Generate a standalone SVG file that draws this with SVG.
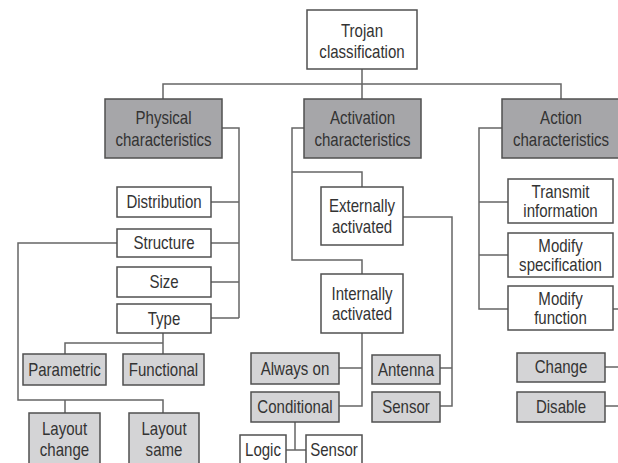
<svg xmlns="http://www.w3.org/2000/svg" width="618" height="463" viewBox="0 0 618 463">
<style>
.w,.d,.l{stroke:#505050;stroke-width:1.5}
.w{fill:#ffffff}
.d{fill:#a6a6a9}
.l{fill:#d4d4d6}
text{font-family:"Liberation Sans",Arial,sans-serif;font-size:17.5px;fill:#333333;text-anchor:middle}
#connectors path{fill:none;stroke:#666666;stroke-width:1.5}
</style>
<rect x="0" y="0" width="618" height="463" fill="#ffffff"/>
<g id="connectors">
<path d="M163,99 V84 H561 V99 M362,69 V99"/>
<path d="M222,128 H239 V318 M211,202 H239 M211,243 H239 M211,282 H239 M211,318 H239"/>
<path d="M117,243 H18 V400 H163 V413 M65,400 V413"/>
<path d="M163,333 V343 H65 V354 M163,343 V354"/>
<path d="M304,128 H292 V260 H362 V274 M292,172 H362 V187"/>
<path d="M403,217 H452 V406 H440 M440,368 H452"/>
<path d="M362,333 V406 H339 M339,368 H362"/>
<path d="M295,422 V450 M286,450 H306"/>
<path d="M502,128 H479 V309 H508 M479,202 H508 M479,255 H508"/>
<path d="M613,309 H618 M605,367 H618 M605,406 H618"/>
</g>
<g id="trojan"><rect class="w" x="307" y="10" width="110" height="59"/><text transform="matrix(0.86 0 0 1 362 37)">Trojan</text><text transform="matrix(0.86 0 0 1 362 58)">classification</text></g>
<g id="physical"><rect class="d" x="105" y="99" width="117" height="59"/><text transform="matrix(0.86 0 0 1 163.5 124)">Physical</text><text transform="matrix(0.86 0 0 1 163.5 146)">characteristics</text></g>
<g id="activation"><rect class="d" x="304" y="99" width="117" height="59"/><text transform="matrix(0.86 0 0 1 362.5 124)">Activation</text><text transform="matrix(0.86 0 0 1 362.5 146)">characteristics</text></g>
<g id="action"><rect class="d" x="502" y="99" width="118" height="59"/><text transform="matrix(0.86 0 0 1 561 124)">Action</text><text transform="matrix(0.86 0 0 1 561 146)">characteristics</text></g>
<g id="distribution"><rect class="w" x="117" y="187" width="94" height="30"/><text transform="matrix(0.86 0 0 1 164 208)">Distribution</text></g>
<g id="structure"><rect class="w" x="117" y="229" width="94" height="28"/><text transform="matrix(0.86 0 0 1 164 249)">Structure</text></g>
<g id="size"><rect class="w" x="117" y="267" width="94" height="30"/><text transform="matrix(0.86 0 0 1 164 288)">Size</text></g>
<g id="type"><rect class="w" x="117" y="304" width="94" height="29"/><text transform="matrix(0.86 0 0 1 164 324.5)">Type</text></g>
<g id="parametric"><rect class="l" x="23" y="354" width="83" height="31"/><text transform="matrix(0.86 0 0 1 64.5 375.5)">Parametric</text></g>
<g id="functional"><rect class="l" x="123" y="354" width="81" height="31"/><text transform="matrix(0.86 0 0 1 163.5 375.5)">Functional</text></g>
<g id="layout-change"><rect class="l" x="29" y="413" width="71" height="55"/><text transform="matrix(0.86 0 0 1 64.5 435)">Layout</text><text transform="matrix(0.86 0 0 1 64.5 456)">change</text></g>
<g id="layout-same"><rect class="l" x="129" y="413" width="70" height="55"/><text transform="matrix(0.86 0 0 1 164 435)">Layout</text><text transform="matrix(0.86 0 0 1 164 456)">same</text></g>
<g id="externally"><rect class="w" x="321" y="187" width="82" height="58"/><text transform="matrix(0.86 0 0 1 362 212)">Externally</text><text transform="matrix(0.86 0 0 1 362 233)">activated</text></g>
<g id="internally"><rect class="w" x="321" y="274" width="82" height="59"/><text transform="matrix(0.86 0 0 1 362 299.5)">Internally</text><text transform="matrix(0.86 0 0 1 362 320)">activated</text></g>
<g id="always-on"><rect class="l" x="251" y="353" width="88" height="31"/><text transform="matrix(0.86 0 0 1 295 374.5)">Always on</text></g>
<g id="conditional"><rect class="l" x="251" y="392" width="88" height="30"/><text transform="matrix(0.86 0 0 1 295 413)">Conditional</text></g>
<g id="antenna"><rect class="l" x="372" y="355" width="68" height="29"/><text transform="matrix(0.86 0 0 1 406 375.5)">Antenna</text></g>
<g id="sensor"><rect class="l" x="372" y="392" width="68" height="30"/><text transform="matrix(0.86 0 0 1 406 413)">Sensor</text></g>
<g id="logic"><rect class="w" x="240" y="435" width="46" height="35"/><text transform="matrix(0.86 0 0 1 263 456)">Logic</text></g>
<g id="sensor-internal"><rect class="w" x="306" y="435" width="56" height="35"/><text transform="matrix(0.86 0 0 1 334 456)">Sensor</text></g>
<g id="transmit"><rect class="w" x="508" y="179" width="105" height="44"/><text transform="matrix(0.86 0 0 1 560.5 198)">Transmit</text><text transform="matrix(0.86 0 0 1 560.5 217)">information</text></g>
<g id="modify-spec"><rect class="w" x="508" y="233" width="105" height="44"/><text transform="matrix(0.86 0 0 1 560.5 251.5)">Modify</text><text transform="matrix(0.86 0 0 1 560.5 270.5)">specification</text></g>
<g id="modify-function"><rect class="w" x="508" y="286" width="105" height="44"/><text transform="matrix(0.86 0 0 1 560.5 304.5)">Modify</text><text transform="matrix(0.86 0 0 1 560.5 323.5)">function</text></g>
<g id="change"><rect class="l" x="517" y="353" width="88" height="29"/><text transform="matrix(0.86 0 0 1 561 373)">Change</text></g>
<g id="disable"><rect class="l" x="517" y="392" width="88" height="30"/><text transform="matrix(0.86 0 0 1 561 413)">Disable</text></g>
</svg>
